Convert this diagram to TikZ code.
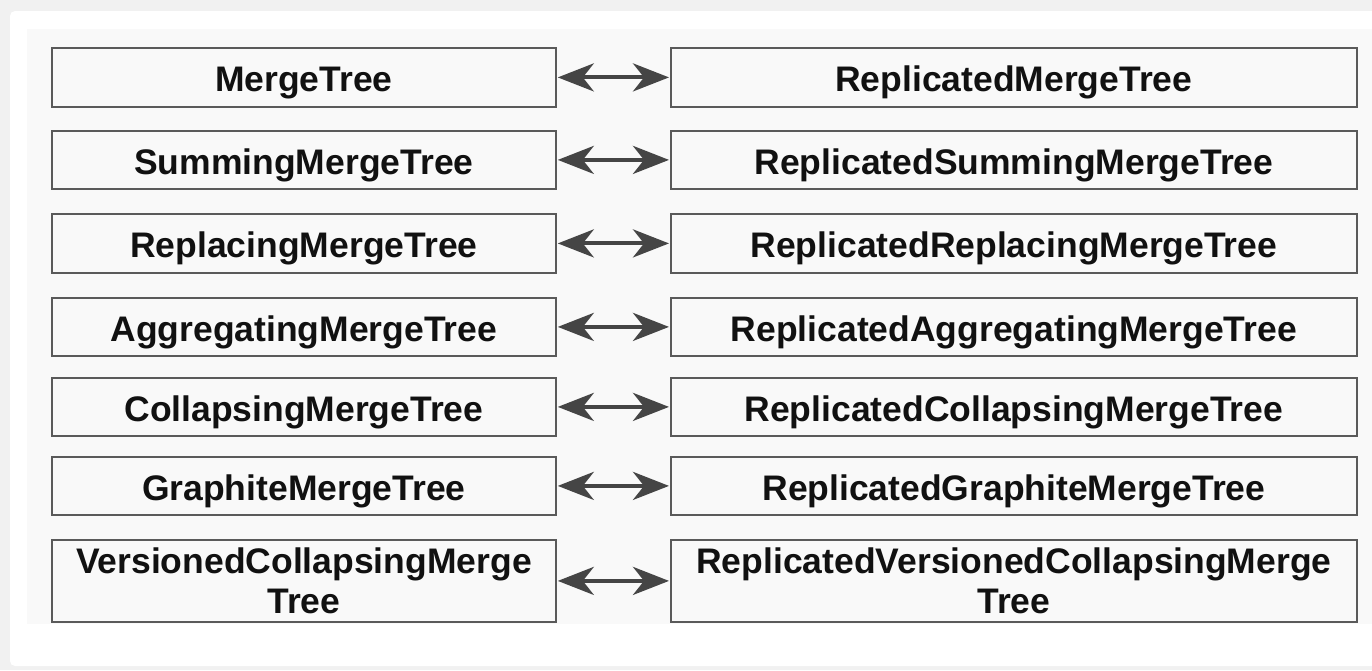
\documentclass[tikz,border=0pt]{standalone}
\usepackage{fontspec}
\setmainfont{Liberation Sans}
\usetikzlibrary{arrows.meta}
\definecolor{pagebg}{HTML}{F1F1F1}
\definecolor{panelbg}{HTML}{F9F9F9}
\definecolor{boxline}{HTML}{5A5A5A}
\definecolor{arrowc}{HTML}{454545}
\definecolor{txt}{HTML}{111111}
\tikzset{
  engine/.style={draw=boxline, line width=1.8pt, fill=panelbg, rectangle, anchor=north west,
    inner sep=0pt, align=center, text=txt,
    font=\fontsize{35.5}{40}\selectfont\bfseries},
  oneline/.style={text height=29pt, text depth=0pt},
  pairarrow/.style={draw=arrowc, line width=4pt,
    {Stealth[length=36pt,width=28pt,inset=11pt]}-{Stealth[length=36pt,width=28pt,inset=11pt]}, shorten <=1pt, shorten >=1pt}
}
\begin{document}
\begin{tikzpicture}[x=1pt,y=-1pt]
\useasboundingbox (0,0) rectangle (1372,670);
\fill[pagebg] (0,0) rectangle (1372,670);
\fill[white, rounded corners=5pt] (10,11) rectangle (1390,666);
\fill[panelbg] (27,29) rectangle (1372,624);
% left column
\node[engine, oneline, minimum width=504pt, minimum height=59pt] (l1) at (51,47) {MergeTree};
\node[engine, oneline, minimum width=504pt, minimum height=58pt] (l2) at (51,130) {SummingMergeTree};
\node[engine, oneline, minimum width=504pt, minimum height=59pt] (l3) at (51,213) {ReplacingMergeTree};
\node[engine, oneline, minimum width=504pt, minimum height=58pt] (l4) at (51,297) {AggregatingMergeTree};
\node[engine, oneline, minimum width=504pt, minimum height=58pt] (l5) at (51,377) {CollapsingMergeTree};
\node[engine, oneline, minimum width=504pt, minimum height=58pt] (l6) at (51,456) {GraphiteMergeTree};
\node[engine, minimum width=504pt, minimum height=82pt] (l7) at (51,539) {VersionedCollapsingMerge\\Tree};
% right column
\node[engine, oneline, minimum width=686pt, minimum height=59pt] (r1) at (670,47) {ReplicatedMergeTree};
\node[engine, oneline, minimum width=686pt, minimum height=58pt] (r2) at (670,130) {ReplicatedSummingMergeTree};
\node[engine, oneline, minimum width=686pt, minimum height=59pt] (r3) at (670,213) {ReplicatedReplacingMergeTree};
\node[engine, oneline, minimum width=686pt, minimum height=58pt] (r4) at (670,297) {ReplicatedAggregatingMergeTree};
\node[engine, oneline, minimum width=686pt, minimum height=58pt] (r5) at (670,377) {ReplicatedCollapsingMergeTree};
\node[engine, oneline, minimum width=686pt, minimum height=58pt] (r6) at (670,456) {ReplicatedGraphiteMergeTree};
\node[engine, minimum width=686pt, minimum height=82pt] (r7) at (670,539) {ReplicatedVersionedCollapsingMerge\\Tree};
% arrows
\foreach \i in {1,...,7} {
  \draw[pairarrow] (l\i.east) -- (r\i.west);
}
\end{tikzpicture}
\end{document}
